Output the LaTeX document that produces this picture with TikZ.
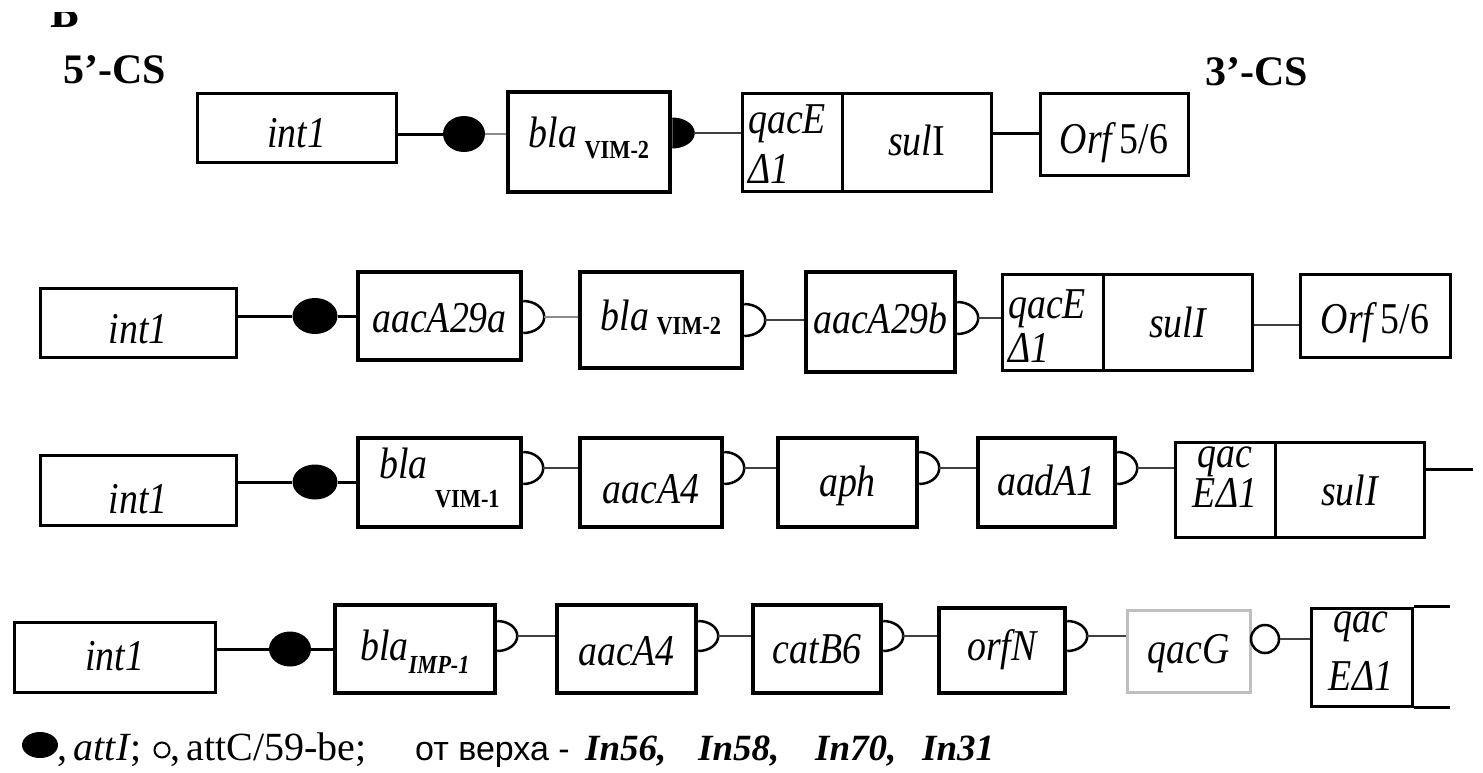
\documentclass[tikz,border=0pt]{standalone}
\usepackage{fontspec}
\setmainfont{Liberation Serif}
\newfontfamily\gfont[FakeStretch=0.86]{Liberation Serif}
\newfontfamily\capsans{Liberation Sans}
\usetikzlibrary{calc,shapes.geometric}

\newcommand\gsub[2]{\raisebox{-#1pt}{\fontsize{26}{28}\selectfont\upshape\bfseries #2}}
\newcommand\gsubi[2]{\raisebox{-#1pt}{\fontsize{26}{28}\selectfont\bfseries\itshape #2}}
% D-shaped attC / attI mark on the right edge of a cassette box
\newcommand\Dmark[6]{%
  \coordinate (tmp) at (0,#2);
  \draw[#4] (#1.east |- tmp) ++(0,-#6) arc[start angle=-90,end angle=90,x radius=#5,y radius=#6];
  \coordinate (#3) at ($(#1.east |- tmp)+(#5,0)$);}

\begin{document}
\begin{tikzpicture}[x=1pt,y=-1pt,
  gn/.style={draw, fill=white, line width=3pt, inner sep=0pt,
            font=\gfont\fontsize{44}{48}\selectfont\itshape},
  gt/.style={gn, line width=4.5pt},
  gbox/.style args={#1,#2,#3,#4}{minimum width={(#3)-(#1)}, minimum height={(#4)-(#2)},
            at={({((#1)+(#3))/2},{((#2)+(#4))/2})}},
  bl/.style={text height=#1pt, text depth=0pt},
  glab/.style={anchor=base west, inner sep=0pt, font=\gfont\fontsize{44}{48}\selectfont\itshape},
  glabc/.style={glab, anchor=base},
  attI/.style={ellipse, fill=black, inner sep=0pt},
  blk/.style={line width=3pt},
  lnk/.style={line width=2.5pt, draw=black!75},
  thn/.style={line width=2pt, draw=black!45},
  dfill/.style={fill=black, draw=black, line width=1pt},
  dopen/.style={draw=black, fill=white, line width=2.5pt},
  cshead/.style={anchor=base west, inner sep=0pt, font=\fontsize{42}{44}\selectfont\bfseries},
  captx/.style={anchor=base west, inner sep=0pt, font=\fontsize{40}{42}\selectfont}
]
\fill[white] (0,0) rectangle (1483,772);
\useasboundingbox (0,0) rectangle (1483,772);

% ---------- headings ----------
\begin{scope}
  \clip (0,12) rectangle (200,100);
  \node[anchor=base west, inner sep=0pt, font=\fontsize{45}{48}\selectfont\bfseries] (blet) at (50,27) {Б};
\end{scope}
\node[cshead] (cs5) at (63,83) {5’-CS};
\node[cshead] (cs3) at (1205,85) {3’-CS};

% ---------- row 1 (In56) ----------
\node[gn, gbox={197,93,396,162}, bl=39] (int1a) {int1};
\node[attI, minimum width=42, minimum height=36] (e1) at (464,134) {};
\node[gt, gbox={508,92,670,192}, bl=10] (bla1) {bla\,\gsub{11}{VIM-2}};
\Dmark{bla1}{133}{d1}{dfill}{22}{15}
\node[gn, gbox={742,93,842,191}] (qac1) {};
\node[gn, gbox={842,93,991,191}, bl=26] (sul1) {sul\textup{I}};
\node[glab] (qac1a) at (748,133) {qacE};
\node[glab] (qac1b) at (748,183) {Δ1};
\node[gn, gbox={1040,93,1188,175}, bl=38] (orf1) {Orf\,\textup{5/6}};
\draw[blk] (int1a.east |- e1) -- (e1);
\draw[thn] (e1) -- (bla1.west |- e1);
\draw[lnk] (d1) -- (qac1.west |- d1);
\draw[blk] (sul1.east |- d1) -- (orf1.west |- d1);

% ---------- row 2 (In58) ----------
\node[gn, gbox={40,288,236,357}, bl=41] (int1b) {int1};
\node[attI, minimum width=45, minimum height=36] (e2) at (315,316) {};
\node[gt, gbox={358,272,521,360}, bl=32] (aac29a) {aacA29a\hspace{26pt}};
\Dmark{aac29a}{317}{d2a}{dopen}{21}{16}
\node[gt, gbox={580,272,742,368}, bl=20] (bla2) {bla\,\gsub{4}{VIM-2}};
\Dmark{bla2}{320}{d2b}{dopen}{21}{16}
\node[gt, gbox={806,272,955,372}, bl=22] (aac29b) {aacA29b};
\Dmark{aac29b}{318}{d2c}{dopen}{21}{16}
\node[gn, gbox={1002,274,1103,370}] (qac2) {};
\node[gn, gbox={1103,274,1252,370}, bl=30] (sul2) {sulI};
\node[glab] (qac2a) at (1008,318) {qacE};
\node[glab] (qac2b) at (1008,362) {Δ1};
\node[gn, gbox={1300,274,1450,357}, bl=35] (orf2) {Orf\,\textup{5/6}};
\coordinate (r2) at (0,325);
\draw[blk] (int1b.east |- e2) -- (e2);
\draw[blk] (e2) -- (aac29a.west |- e2);
\draw[thn] (d2a) -- (bla2.west |- d2a);
\draw[lnk] (d2b) -- (aac29b.west |- d2b);
\draw[lnk] (d2c) -- (qac2.west |- d2c);
\draw[lnk] (sul2.east |- r2) -- (orf2.west |- r2);

% ---------- row 3 (In70) ----------
\node[gn, gbox={40,455,236,525}, bl=46] (int1c) {int1};
\node[attI, minimum width=45, minimum height=35] (e3) at (315,482) {};
\node[gt, gbox={358,438,521,527}, text height=0pt, text depth=9pt] (blav1) {bla\,\gsub{29}{VIM-1}};
\Dmark{blav1}{468}{d3a}{dopen}{20}{16}
\node[gt, gbox={580,438,722,527}, bl=41] (aacA4c) {aacA4};
\Dmark{aacA4c}{468}{d3b}{dopen}{20}{16}
\node[gt, gbox={778,438,917,527}, bl=27] (aph) {aph};
\Dmark{aph}{468}{d3c}{dopen}{20}{16}
\node[gt, gbox={978,438,1115,527}, bl=25] (aadA1) {aadA1};
\Dmark{aadA1}{468}{d3d}{dopen}{20}{16}
\node[gn, gbox={1175,442,1275,537}] (qac3) {};
\node[gn, gbox={1275,442,1424,537}, bl=31] (sul3) {sulI};
\node[glabc] (qac3a) at (1225,467) {qac};
\node[glabc] (qac3b) at (1225,507) {EΔ1};
\coordinate (end3) at (1473,469);
\draw[blk] (int1c.east |- e3) -- (e3);
\draw[blk] (e3) -- (blav1.west |- e3);
\draw[lnk] (d3a) -- (aacA4c.west |- d3a);
\draw[lnk] (d3b) -- (aph.west |- d3b);
\draw[lnk] (d3c) -- (aadA1.west |- d3c);
\draw[lnk] (d3d) -- (qac3.west |- d3d);
\draw[blk] (sul3.east |- end3) -- (end3);

% ---------- row 4 (In31) ----------
\node[gn, gbox={14,622,215,692}, bl=26] (int1d) {int1};
\node[attI, minimum width=42, minimum height=35] (e4) at (290,649) {};
\node[gt, gbox={335,605,495,693}, bl=22] (blaimp) {bla\gsubi{13}{IMP-1}};
\Dmark{blaimp}{636}{d4a}{dopen}{20}{15}
\node[gt, gbox={557,605,696,693}, bl=32] (aacA4d) {aacA4};
\Dmark{aacA4d}{636}{d4b}{dopen}{20}{15}
\node[gt, gbox={753,605,881,693}, bl=28] (catB6) {catB6};
\Dmark{catB6}{636}{d4c}{dopen}{20}{15}
\node[gt, gbox={939,608,1065,693}, bl=19] (orfN) {orfN};
\Dmark{orfN}{636}{d4d}{dopen}{20}{15}
\node[gn, draw=black!25, gbox={1127,610,1250,692}, bl=24] (qacG) {qacG};
\node[ellipse, draw, line width=2.5pt, fill=white, minimum width=28, minimum height=28, inner sep=0pt] (c4) at (1265,639) {};
\node[gn, gbox={1311,608,1412,706}] (qac4) {};
\node[glabc] (qac4a) at (1361,632) {qac};
\node[glabc] (qac4b) at (1361,690) {EΔ1};
\coordinate (end4) at (1450,0);
\draw[blk] (int1d.east |- e4) -- (e4);
\draw[blk] (e4) -- (blaimp.west |- e4);
\draw[lnk] (d4a) -- (aacA4d.west |- d4a);
\draw[lnk] (d4b) -- (catB6.west |- d4b);
\draw[lnk] (d4c) -- (orfN.west |- d4c);
\draw[lnk] (d4d) -- (qacG.west |- d4d);
\draw[lnk] (c4) -- (qac4.west |- c4);
\draw[blk] (qac4.north east) -- (qac4.north east -| end4);
\draw[blk] (qac4.south east) -- (qac4.south east -| end4);

% ---------- legend ----------
\node[attI, minimum width=36, minimum height=26] (leg1) at (40,745) {};
\node[captx] (leg1t) at (57,760) {,\,\textit{attI};};
\node[circle, draw, line width=2pt, minimum size=15, inner sep=0pt] (leg2) at (162,750) {};
\node[captx] (leg2t) at (170,760) {,\,attC/59-be;};
\node[captx, font=\capsans\fontsize{34}{38}\selectfont] (leg3) at (415,760) {от верха -};
\node[captx, font=\fontsize{37}{40}\selectfont\bfseries\itshape] (leg4) at (585,760)
  {\makebox[113pt][l]{In56,}\makebox[117pt][l]{In58,}\makebox[107pt][l]{In70,}In31};
\end{tikzpicture}
\end{document}
